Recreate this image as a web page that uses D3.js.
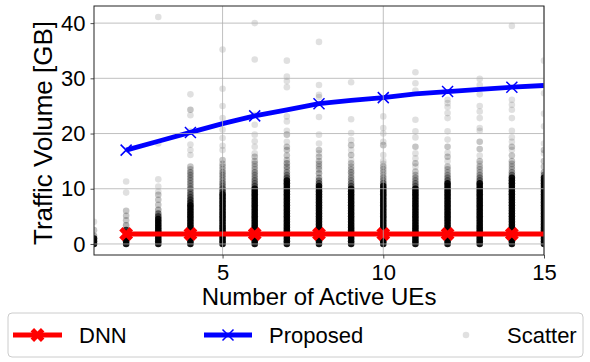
<!DOCTYPE html>
<html><head><meta charset="utf-8">
<script src="https://cdn.jsdelivr.net/npm/d3@7"></script>
<style>
body{margin:0;background:#fff}
text{font-family:"Liberation Sans",Arial,sans-serif;fill:#000}
</style>
</head><body>
<svg id="c" width="590" height="362"></svg>
<script>
// ---------- data ----------
const xTicks = [5, 10, 15];
const yTicks = [0, 10, 20, 30, 40];
const dnnX = [2,3,4,5,6,7,8,9,10,11,12,13,14,15];
const dnnY = [1.8,1.8,1.8,1.8,1.8,1.8,1.8,1.8,1.8,1.8,1.8,1.8,1.8,1.8];
const propX = [2,3,4,5,6,7,8,9,10,11,12,13,14,15];
const propY = [17.0,18.6,20.2,21.8,23.2,24.3,25.4,26.0,26.5,27.2,27.6,28.0,28.4,28.7];
const markerX = [2,4,6,8,10,12,14];
const seriesNames = ["DNN", "Proposed", "Scatter"];

// scatter: x position of each column, the values read per column, and how many points overlap at each value
const scatterX = [1,2,3,4,5,6,7,8,9,10,11,12,13,14,15];
const scatterVals = [
  [0,0.5,1,1.5,2.5,4],
  [0,0.5,1,1.5,2,2.5,3.4,4.3,5.1,6.0,9.3,11.3],
  [0,0.5,1,1.5,2,2.5,3,3.5,4,4.5,5,5.5,6.2,7.1,8.0,8.9,9.5,10.4,11.7,18.2,41.1],
  [0,0.5,1,1.5,2,2.5,3,3.5,4,4.5,5,5.5,6,6.5,7,7.5,8,8.5,9,9.5,10,10.5,11,11.5,12,12.5,13,13.5,14,16.1,17,18,20.4,23.3,24.3,27.1],
  [0,0.5,1,1.5,2,2.5,3,3.5,4,4.5,5,5.5,6,6.5,7,7.5,8,8.5,9,9.5,10,10.5,11,11.5,12,12.5,13,13.5,14,14.5,15.2,17,17.8,19.2,20.7,22.8,25,28.1,35.2],
  [0,0.5,1,1.5,2,2.5,3,3.5,4,4.5,5,5.5,6,6.5,7,7.5,8,8.5,9,9.5,10,10.5,11,11.5,12,12.5,13,13.5,14,14.5,15,15.8,16.4,17.6,18.6,19.8,21.6,23.4,33.4,40],
  [0,0.5,1,1.5,2,2.5,3,3.5,4,4.5,5,5.5,6,6.5,7,7.5,8,8.5,9,9.5,10,10.5,11,11.5,12,12.5,13,13.5,14,14.6,15.2,16,17,17.6,18.5,19.8,20.5,22.2,23.1,28.4,29.5,30.3,33.2],
  [0,0.5,1,1.5,2,2.5,3,3.5,4,4.5,5,5.5,6,6.5,7,7.5,8,8.5,9,9.5,10,10.5,11,11.5,12,12.8,13.5,14,14.5,15,15.8,16.4,17,18.2,19.8,23,26.6,27,28.8,36.6],
  [0,0.5,1,1.5,2,2.5,3,3.5,4,4.5,5,5.5,6,6.5,7,7.5,8,8.5,9,9.5,10,10.5,11,11.5,12,12.5,13,13.5,14,14.6,15.2,16.1,17,17.9,18.8,20.1,22.6,29.3],
  [0,0.5,1,1.5,2,2.5,3,3.5,4,4.5,5,5.5,6,6.5,7,7.5,8,8.5,9,9.5,10,10.5,11,11.5,12,12.5,13,13.5,14,14.5,15,16.1,17.9,18.5,20,21,23.1],
  [0,0.5,1,1.5,2,2.5,3,3.5,4,4.5,5,5.5,6,6.5,7,7.5,8,8.5,9,9.5,10,10.5,11,11.5,12,12.5,13.1,14,14.6,15.5,16.4,17.6,19.3,20.4,22.5,27.8,29.1,31.1],
  [0,0.5,1,1.5,2,2.5,3,3.5,4,4.5,5,5.5,6,6.5,7,7.5,8,8.5,9,9.5,10,10.5,11,11.5,12,12.5,13,13.5,14,15,15.8,16.5,17.6,18.9,20.4,22.8,23.7,24.8,25.5,26.1],
  [0,0.5,1,1.5,2,2.5,3,3.5,4,4.5,5,5.5,6,6.5,7,7.5,8,8.5,9,9.5,10,10.5,11,11.5,12,12.5,13,13.5,14,14.5,15,16,17.2,18.5,20.5,21,22.8,24,25,27.1,28.8,29.9],
  [0,0.5,1,1.5,2,2.5,3,3.5,4,4.5,5,5.5,6,6.5,7,7.5,8,8.5,9,9.5,10,10.5,11,11.5,12,12.5,13,13.5,14,14.5,15,16,17,17.6,18.5,19.3,20.5,22.8,24.3,25.2,26.1,39.5],
  [0,0.5,1,1.5,2,2.5,3,3.5,4,4.5,5,5.5,6,6.5,7,7.5,8,8.5,9,9.5,10,10.5,11,11.5,12,12.5,13,14,15,16.4,17,18.2,21.3,23.6,27.3,33.2]
];
const scatterCounts = [
  [20,20,20,3,2,1],
  [20,20,20,20,20,12,3,2,2,2,1,1],
  [20,20,20,20,20,20,20,20,20,20,8,5,3,2,2,2,1,1,1,1,1],
  [20,20,20,20,20,20,20,20,20,20,20,20,20,20,20,10,8,6,5,4,4,3,3,3,3,3,3,2,2,1,1,1,1,1,2,1],
  [20,20,20,20,20,20,20,20,20,20,20,20,20,20,20,20,20,20,20,8,6,4,4,3,3,3,3,2,2,2,2,1,1,1,1,1,1,1,1],
  [20,20,20,20,20,20,20,20,20,20,20,20,20,20,20,20,20,20,20,20,20,6,4,4,3,3,3,2,2,2,2,2,1,1,1,1,1,1,1,1],
  [20,20,20,20,20,20,20,20,20,20,20,20,20,20,20,20,20,20,20,20,20,20,20,20,6,4,3,2,3,3,2,2,2,2,1,2,1,1,1,1,1,1,1],
  [20,20,20,20,20,20,20,20,20,20,20,20,20,20,20,20,20,20,20,20,20,20,6,4,3,3,2,2,2,2,2,1,2,1,1,1,1,1,1,1],
  [20,20,20,20,20,20,20,20,20,20,20,20,20,20,20,20,20,20,20,20,20,6,4,3,3,2,3,2,2,2,1,2,1,2,1,1,1,1],
  [20,20,20,20,20,20,20,20,20,20,20,20,20,20,20,20,20,20,20,20,20,20,5,3,3,2,2,2,2,1,1,1,2,1,1,1,1],
  [20,20,20,20,20,20,20,20,20,20,20,20,20,20,20,20,20,20,20,20,20,5,4,3,3,2,2,1,2,1,1,2,1,1,1,1,1,1],
  [20,20,20,20,20,20,20,20,20,20,20,20,20,20,20,20,20,20,20,20,20,20,20,5,4,3,2,2,2,1,2,1,2,1,1,1,1,1,1,1],
  [20,20,20,20,20,20,20,20,20,20,20,20,20,20,20,20,20,20,20,20,20,20,20,5,4,3,2,2,2,1,2,1,2,2,1,1,1,1,1,1,1,1],
  [20,20,20,20,20,20,20,20,20,20,20,20,20,20,20,20,20,20,20,20,20,20,20,20,20,5,3,2,2,2,2,2,1,2,1,1,1,1,1,1,1,1],
  [20,20,20,20,20,20,20,20,20,20,20,20,20,20,20,20,20,20,20,20,20,20,20,20,20,4,3,2,2,1,2,1,1,1,1,1]
];

// ---------- layout ----------
const m = {left: 94, right: 544, top: 6, bottom: 255};
const svg = d3.select("#c");
const x = d3.scaleLinear().domain([1, 15]).range([m.left, m.right]);
const y = d3.scaleLinear().domain([-2.0, 43.1]).range([m.bottom, m.top]);
const FS = 22;
const alpha = 0.12;

svg.append("defs").append("clipPath").attr("id", "clip")
  .append("rect").attr("x", m.left).attr("y", m.top)
  .attr("width", m.right - m.left).attr("height", m.bottom - m.top);

const plot = svg.append("g").attr("clip-path", "url(#clip)");

// scatter
const pts = [];
scatterX.forEach((cx, i) => {
  scatterVals[i].forEach((v, j) => pts.push({x: cx, y: v, n: scatterCounts[i][j]}));
});
plot.append("g").selectAll("circle").data(pts).join("circle")
  .attr("cx", d => x(d.x)).attr("cy", d => y(d.y)).attr("r", 3.3)
  .attr("fill", "#000")
  .attr("fill-opacity", d => 1 - Math.pow(1 - alpha, d.n));

// grid
const grid = svg.append("g").attr("stroke", "#b0b0b0").attr("stroke-width", 0.8);
grid.selectAll(".gx").data(xTicks).join("line")
  .attr("x1", d => x(d)).attr("x2", d => x(d)).attr("y1", m.top).attr("y2", m.bottom);
grid.selectAll(".gy").data(yTicks).join("line")
  .attr("y1", d => y(d)).attr("y2", d => y(d)).attr("x1", m.left).attr("x2", m.right);

// lines
const line = d3.line().x(d => x(d[0])).y(d => y(d[1]));
const dnn = dnnX.map((v, i) => [v, dnnY[i]]);
const prop = propX.map((v, i) => [v, propY[i]]);
const LW = 4.8;
plot.append("path").datum(dnn).attr("d", line).attr("fill", "none")
  .attr("stroke", "#ff0000").attr("stroke-width", LW);
const Xsym = d3.symbol().type(d3.symbolCross).size(120);
function drawX(g, cx, cy) {
  g.append("path").attr("d", Xsym()).attr("fill", "#ff0000")
    .attr("transform", `translate(${cx},${cy}) rotate(45)`);
}
function drawx(g, cx, cy, col) {
  const s = 5.5;
  g.append("path").attr("d", `M${cx - s},${cy - s}L${cx + s},${cy + s}M${cx - s},${cy + s}L${cx + s},${cy - s}`)
    .attr("stroke", col).attr("stroke-width", 1.5).attr("fill", "none");
}
const dnnMarks = dnn.filter(d => markerX.includes(d[0]));
dnnMarks.forEach(d => drawX(plot, x(d[0]), y(d[1])));

plot.append("path").datum(prop).attr("d", line).attr("fill", "none")
  .attr("stroke", "#0000ff").attr("stroke-width", LW);
const propMarks = prop.filter(d => markerX.includes(d[0]));
propMarks.forEach(d => drawx(plot, x(d[0]), y(d[1]), "#0000ff"));

// axes
const ax = svg.append("g").attr("transform", `translate(0,${m.bottom})`)
  .call(d3.axisBottom(x).tickValues(xTicks).tickSize(3.5).tickPadding(5.5));
const ay = svg.append("g").attr("transform", `translate(${m.left},0)`)
  .call(d3.axisLeft(y).tickValues(yTicks).tickSize(3.5).tickPadding(5));
[ax, ay].forEach(a => {
  a.select(".domain").remove();
  a.selectAll("line").attr("stroke", "#222").attr("stroke-width", 0.8);
  a.selectAll("text").attr("font-size", FS).attr("font-family", '"Liberation Sans",Arial,sans-serif').attr("fill", "#000");
});
svg.append("rect").attr("x", m.left).attr("y", m.top)
  .attr("width", m.right - m.left).attr("height", m.bottom - m.top)
  .attr("fill", "none").attr("stroke", "#222").attr("stroke-width", 1);

// axis labels
svg.append("text").attr("x", (m.left + m.right) / 2).attr("y", 305)
  .attr("text-anchor", "middle").attr("font-size", 24).text("Number of Active UEs");
svg.append("text").attr("transform", `translate(52,133) rotate(-90)`)
  .attr("text-anchor", "middle").attr("font-size", 26).text("Traffic Volume [GB]");

// legend
const lg = svg.append("g");
lg.append("rect").attr("x", 8).attr("y", 313).attr("width", 575).attr("height", 44)
  .attr("rx", 4).attr("fill", "#fff").attr("fill-opacity", 0.8)
  .attr("stroke", "#cccccc").attr("stroke-width", 1);
const ly = 335;
lg.append("line").attr("x1", 13).attr("x2", 62).attr("y1", ly).attr("y2", ly)
  .attr("stroke", "#ff0000").attr("stroke-width", LW);
drawX(lg, 37.5, ly);
lg.append("line").attr("x1", 204).attr("x2", 252).attr("y1", ly).attr("y2", ly)
  .attr("stroke", "#0000ff").attr("stroke-width", LW);
drawx(lg, 228, ly, "#0000ff");
lg.append("circle").attr("cx", 466).attr("cy", ly).attr("r", 3.3)
  .attr("fill", "#000").attr("fill-opacity", alpha);
const lx = [79, 269, 507];
seriesNames.forEach((s, i) => {
  lg.append("text").attr("x", lx[i]).attr("y", ly + 8).attr("font-size", FS).text(s);
});
</script>
</body></html>
